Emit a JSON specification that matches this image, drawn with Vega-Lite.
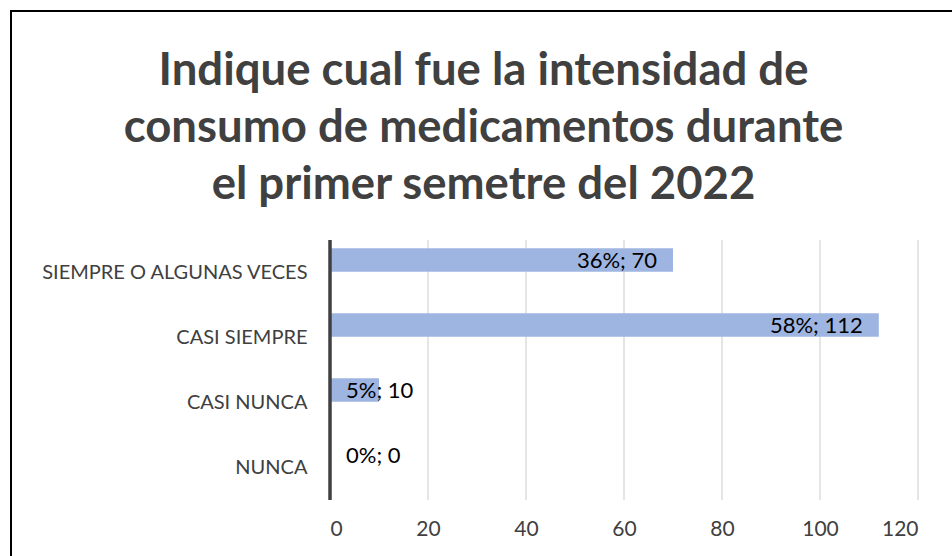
{
  "$schema": "https://vega.github.io/schema/vega-lite/v6.json",
  "width": 945,
  "height": 550,
  "autosize": {"type": "none"},
  "padding": {"left": 11, "top": 11, "right": 0, "bottom": 0},
  "background": "white",
  "config": {
    "view": {"stroke": "black", "strokeWidth": 2},
    "font": "Lato"
  },
  "title": {
    "text": ["Indique cual fue la intensidad de", "consumo de medicamentos durante", "el primer semetre del 2022"],
    "font": "Lato",
    "fontSize": 45.5,
    "fontWeight": "bold",
    "color": "#404040",
    "lineHeight": 57,
    "anchor": "middle",
    "offset": -197
  },
  "data": {
    "values": [
      {"cat": "SIEMPRE O ALGUNAS VECES", "n": 70, "pct": 0.36},
      {"cat": "CASI SIEMPRE", "n": 112, "pct": 0.58},
      {"cat": "CASI NUNCA", "n": 10, "pct": 0.05},
      {"cat": "NUNCA", "n": 0, "pct": 0}
    ]
  },
  "transform": [
    {"calculate": "format(datum.pct, '.0%') + '; ' + datum.n", "as": "label"}
  ],
  "encoding": {
    "y": {
      "field": "cat",
      "type": "nominal",
      "sort": null,
      "scale": {"paddingInner": 0, "paddingOuter": 0, "range": [229, 489]},
      "axis": {
        "title": null,
        "offset": -319,
        "ticks": false,
        "domain": false,
        "grid": false,
        "labelPadding": 23,
        "labelLimit": 500,
        "labelFont": "Lato",
        "labelFontSize": 20,
        "labelColor": "#404040"
      }
    }
  },
  "layer": [
    {"mark": {"type": "tick", "color": "#d4d4d4", "thickness": 1.2, "size": 65, "opacity": 1}, "encoding": {"x": {"datum": 20, "type": "quantitative"}}},
    {"mark": {"type": "tick", "color": "#d4d4d4", "thickness": 1.2, "size": 65, "opacity": 1}, "encoding": {"x": {"datum": 40, "type": "quantitative"}}},
    {"mark": {"type": "tick", "color": "#d4d4d4", "thickness": 1.2, "size": 65, "opacity": 1}, "encoding": {"x": {"datum": 60, "type": "quantitative"}}},
    {"mark": {"type": "tick", "color": "#d4d4d4", "thickness": 1.2, "size": 65, "opacity": 1}, "encoding": {"x": {"datum": 80, "type": "quantitative"}}},
    {"mark": {"type": "tick", "color": "#d4d4d4", "thickness": 1.2, "size": 65, "opacity": 1}, "encoding": {"x": {"datum": 100, "type": "quantitative"}}},
    {"mark": {"type": "tick", "color": "#d4d4d4", "thickness": 1.2, "size": 65, "opacity": 1}, "encoding": {"x": {"datum": 120, "type": "quantitative"}}},
    {
      "mark": {"type": "bar", "color": "#9fb5e1", "height": 23.5, "yOffset": -12.5},
      "encoding": {
        "x": {
          "field": "n",
          "type": "quantitative",
          "scale": {"domain": [0, 120], "range": [319, 907], "nice": false, "zero": false},
          "axis": {
            "title": null,
            "values": [0, 20, 40, 60, 80, 100, 120],
            "offset": -44,
            "ticks": false,
            "domain": false,
            "grid": false,
            "labelPadding": 1,
            "labelFont": "Lato",
            "labelFontSize": 21,
            "labelColor": "#404040"
          }
        }
      }
    },
    {"mark": {"type": "tick", "color": "#404040", "thickness": 3.5, "size": 65, "opacity": 1}, "encoding": {"x": {"datum": 0, "type": "quantitative"}}},
    {
      "transform": [{"filter": "datum.n >= 40"}],
      "mark": {"type": "text", "align": "right", "baseline": "middle", "dx": -16, "yOffset": -12, "font": "Lato", "fontSize": 22, "color": "black"},
      "encoding": {"x": {"field": "n", "type": "quantitative"}, "text": {"field": "label"}}
    },
    {
      "transform": [{"filter": "datum.n < 40"}],
      "mark": {"type": "text", "align": "left", "baseline": "middle", "dx": 16, "yOffset": -12, "font": "Lato", "fontSize": 22, "color": "black"},
      "encoding": {"x": {"datum": 0, "type": "quantitative"}, "text": {"field": "label"}}
    }
  ]
}
